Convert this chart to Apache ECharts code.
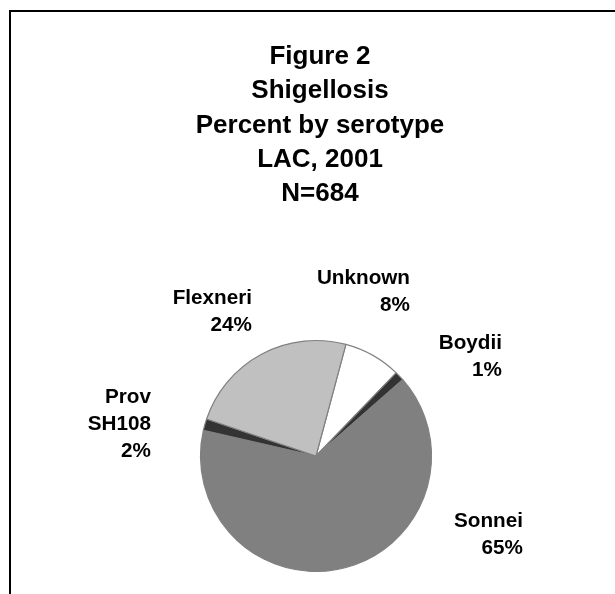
<!DOCTYPE html>
<html><head><meta charset="utf-8">
<script src="https://cdn.jsdelivr.net/npm/echarts@6/dist/echarts.min.js"></script>
<style>html,body{margin:0;padding:0;background:#fff}#c{width:615px;height:594px}</style>
</head><body><div id="c"></div>
<script>
// Data
const titleLines = ['Figure 2', 'Shigellosis', 'Percent by serotype', 'LAC, 2001', 'N=684'];
const categories = ['Unknown', 'Boydii', 'Sonnei', 'Prov\nSH108', 'Flexneri'];
const counts = [55, 9, 445, 11, 164];

// Styles / layout (kept separate from data)
const sliceColors = ['#ffffff', '#333333', '#808080', '#333333', '#c0c0c0'];
const labelAnchors = { // right edge x, middle y of each label block
  'Unknown': [410, 292],
  'Boydii': [502, 357],
  'Sonnei': [523, 535],
  'Prov\nSH108': [151, 424],
  'Flexneri': [252, 312]
};
const FONT = 'Liberation Sans, Arial, sans-serif';

const chart = echarts.init(document.getElementById('c'), null, {renderer: 'canvas'});
chart.setOption({
  backgroundColor: '#ffffff',
  animation: false,
  title: {
    text: titleLines.join('\n'),
    left: 320,
    textAlign: 'center',
    top: 40,
    padding: 0,
    textStyle: {fontFamily: FONT, fontWeight: 'bold', fontSize: 26, lineHeight: 34.2, color: '#000'}
  },
  graphic: [{
    type: 'rect', shape: {x: 10, y: 11, width: 700, height: 700},
    style: {fill: 'none', stroke: '#000', lineWidth: 2}, silent: true
  }],
  series: [{
    type: 'pie',
    center: [316, 456],
    radius: 115.5,
    startAngle: 75,
    clockwise: true,
    label: {
      show: true,
      position: 'outside',
      fontFamily: FONT, fontWeight: 'bold', fontSize: 20.7, lineHeight: 27, color: '#000',
      align: 'right',
      formatter: p => p.name + '\n' + Math.round(p.percent) + '%'
    },
    labelLine: {show: false},
    labelLayout: function (params) {
      const name = categories[params.dataIndex];
      const a = labelAnchors[name];
      return {x: a[0], y: a[1], align: 'right', verticalAlign: 'middle', hideOverlap: false};
    },
    itemStyle: {borderColor: '#808080', borderWidth: 1.2},
    emphasis: {disabled: true},
    data: categories.map((n, i) => ({name: n, value: counts[i], itemStyle: {color: sliceColors[i]}}))
  }]
});
</script></body></html>
